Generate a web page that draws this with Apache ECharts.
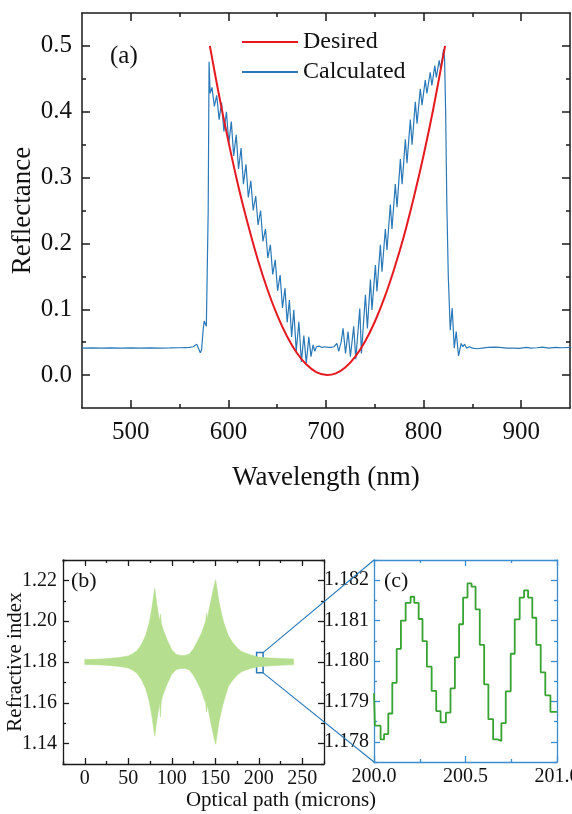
<!DOCTYPE html>
<html>
<head>
<meta charset="utf-8">
<script src="https://cdn.jsdelivr.net/npm/echarts@6/dist/echarts.min.js"></script>
<style>
  html, body { margin: 0; padding: 0; background: #fff; }
  #main { width: 572px; height: 814px; }
</style>
</head>
<body>
<div id="main"></div>
<script>
// ---------- (a) reflectance spectra ----------
const wlMajor = [500, 600, 700, 800, 900];
const wlMinor = [550, 650, 750, 850];
const reflMajor = [0.0, 0.1, 0.2, 0.3, 0.4, 0.5];
const reflMinor = [0.05, 0.15, 0.25, 0.35, 0.45];

// target profile [wavelength nm, reflectance]
const desired = [
  [581, 0.500], [590, 0.428], [600, 0.355], [610, 0.288], [620, 0.229],
  [630, 0.176], [640, 0.130], [650, 0.091], [660, 0.059], [670, 0.034],
  [680, 0.016], [690, 0.0046], [701, 0.0], [710, 0.0025], [720, 0.0118],
  [730, 0.028], [740, 0.051], [750, 0.081], [760, 0.118], [770, 0.162],
  [780, 0.212], [790, 0.270], [800, 0.334], [810, 0.405], [822, 0.500]
];

// computed response of the designed structure [wavelength nm, reflectance]
const calculated = [
  [450, 0.041], [460, 0.0412], [470, 0.041], [480, 0.0413], [490, 0.041], [500, 0.0412],
  [510, 0.041], [520, 0.0413], [530, 0.041], [540, 0.0412], [550, 0.0415], [556, 0.0418],
  [560, 0.042], [564, 0.043], [566, 0.045], [567.6, 0.047], [569.5, 0.040], [571.2, 0.034],
  [572.5, 0.038], [574.2, 0.070], [575.2, 0.082], [576.2, 0.083], [577.4, 0.074], [578.6, 0.071],
  [579.3, 0.25], [580.2, 0.476],
  [581.3, 0.428], [583.2, 0.437], [585.6, 0.408], [588.0, 0.425], [590.5, 0.388], [593.0, 0.414],
  [595.4, 0.370], [598.0, 0.400], [600.4, 0.352], [603.0, 0.385], [605.4, 0.333], [608.0, 0.365],
  [610.4, 0.313], [613.0, 0.345], [615.4, 0.290], [618.0, 0.320], [620.4, 0.270], [623.0, 0.295],
  [625.4, 0.250], [628.0, 0.272], [630.4, 0.228], [633.0, 0.250], [635.4, 0.203], [638.0, 0.222],
  [640.4, 0.178], [643.0, 0.198], [645.4, 0.153], [648.0, 0.175], [650.4, 0.128], [653.0, 0.152],
  [655.4, 0.102], [658.0, 0.132], [660.2, 0.080], [662.5, 0.114], [664.8, 0.058], [667.0, 0.099],
  [669.5, 0.036], [672.2, 0.081], [674.8, 0.020], [677.3, 0.060], [679.8, 0.018], [682.4, 0.058],
  [684.6, 0.028], [686.8, 0.046], [688.5, 0.036],
  [690.2, 0.043], [691.5, 0.040], [693, 0.044], [694.5, 0.041], [696, 0.042], [697.5, 0.040],
  [699, 0.043], [700.5, 0.041], [702, 0.042], [703.5, 0.040], [705, 0.042], [706.5, 0.041],
  [708, 0.043], [709.5, 0.040], [711.2, 0.048], [713, 0.036],
  [715.5, 0.050], [717.5, 0.071], [720, 0.033], [722.6, 0.066], [725, 0.028], [728.4, 0.074],
  [730.5, 0.024], [734.6, 0.101], [736.3, 0.033], [740.4, 0.122], [742.4, 0.071], [745.5, 0.145],
  [747.1, 0.099], [750.6, 0.167], [752.2, 0.127], [755.7, 0.198], [757.4, 0.157], [760.8, 0.222],
  [762.5, 0.190], [765.9, 0.259], [767.6, 0.222], [771, 0.290], [772.8, 0.255], [776.2, 0.328],
  [778, 0.290], [781.3, 0.358], [783, 0.322], [786.4, 0.388], [788.2, 0.350], [791.5, 0.415],
  [793.3, 0.382], [796.6, 0.435], [798.4, 0.410], [801.7, 0.448], [803.4, 0.428], [806.8, 0.460],
  [808.5, 0.440], [811.5, 0.470], [813, 0.452], [816, 0.478], [817.5, 0.465], [820.5, 0.495],
  [821.5, 0.480], [822.6, 0.400], [823.8, 0.260], [825.3, 0.150], [827.3, 0.068], [829.3, 0.102],
  [831.4, 0.041], [833.4, 0.066], [835.8, 0.029], [838.5, 0.048], [840.2, 0.043], [842, 0.047],
  [844, 0.041], [847, 0.043], [850, 0.041], [855, 0.040], [860, 0.041], [866, 0.042],
  [872, 0.0425], [878, 0.042], [885, 0.041], [892, 0.041], [898, 0.0405], [905, 0.042],
  [910, 0.041], [916, 0.0415], [922, 0.0425], [928, 0.041], [935, 0.042], [942, 0.0415], [950, 0.042]
];

// ---------- (b) index profile envelope ----------
const pathMajor = [0, 50, 100, 150, 200, 250];
const pathMinor = [-25, 25, 75, 125, 175, 225, 275];
const indexMajor = [1.14, 1.16, 1.18, 1.20, 1.22];
const indexMinor = [1.13, 1.15, 1.17, 1.19, 1.21, 1.23];

const envPath = [0, 10, 20, 30, 40, 50, 55, 60, 65, 70, 74, 77, 79, 80.5, 82, 84, 86, 87, 88, 90,
  95, 100, 105, 110, 115, 120, 125, 130, 134, 137, 139, 140, 141, 143, 146, 148.5, 150.5, 152, 154,
  157, 160, 165, 170, 175, 180, 190, 200, 210, 220, 230, 240];
const envUpper = [1.1812, 1.1813, 1.1815, 1.1818, 1.1822, 1.1830, 1.1840, 1.1855, 1.1885, 1.1930,
  1.1990, 1.2060, 1.2120, 1.2162, 1.2110, 1.2050, 1.2000, 1.2035, 1.1990, 1.1960,
  1.1905, 1.1860, 1.1838, 1.1832, 1.1832, 1.1838, 1.1865, 1.1905, 1.1940, 1.1975, 1.2000, 1.2040,
  1.2010, 1.2060, 1.2120, 1.2170, 1.2203, 1.2160, 1.2100,
  1.2040, 1.1990, 1.1930, 1.1895, 1.1870, 1.1852, 1.1835, 1.1824, 1.1820, 1.1818, 1.1816, 1.1815];
const envLower = [1.1788, 1.1787, 1.1785, 1.1782, 1.1778, 1.1770, 1.1760, 1.1745, 1.1715, 1.1670,
  1.1610, 1.1540, 1.1480, 1.1436, 1.1490, 1.1545, 1.1600, 1.1530, 1.1610, 1.1640,
  1.1695, 1.1740, 1.1762, 1.1768, 1.1768, 1.1762, 1.1735, 1.1695, 1.1660, 1.1620, 1.1600, 1.1555,
  1.1590, 1.1545, 1.1480, 1.1430, 1.1397, 1.1440, 1.1500,
  1.1560, 1.1610, 1.1680, 1.1710, 1.1735, 1.1752, 1.1768, 1.1777, 1.1780, 1.1783, 1.1785, 1.1786];

// magnified window of the profile
const zoomWindow = { x0: 197.5, x1: 205, y0: 1.1747, y1: 1.1846 };

// ---------- (c) layered index near 200 µm ----------
const fineMajor = [200.0, 200.5, 201.0];
const fineMinor = [200.25, 200.75];
const fineIndexMajor = [1.178, 1.179, 1.180, 1.181, 1.182];
const fineIndexMinor = [1.1775, 1.1785, 1.1795, 1.1805, 1.1815, 1.1825];

// [layer start position µm, refractive index]
const layers = [
  [200.000, 1.17920], [200.005, 1.17840], [200.036, 1.17806], [200.055, 1.17819], [200.078, 1.17870],
  [200.100, 1.17946], [200.124, 1.18030], [200.147, 1.18100], [200.173, 1.18144], [200.200, 1.18159],
  [200.220, 1.18144], [200.244, 1.18104], [200.265, 1.18049], [200.289, 1.17986], [200.315, 1.17926],
  [200.340, 1.17876], [200.364, 1.17848], [200.393, 1.17872], [200.418, 1.17932], [200.442, 1.18009],
  [200.465, 1.18091], [200.487, 1.18157], [200.511, 1.18192], [200.533, 1.18184], [200.555, 1.18128],
  [200.578, 1.18040], [200.602, 1.17942], [200.625, 1.17856], [200.651, 1.17806], [200.675, 1.17802],
  [200.696, 1.17846], [200.720, 1.17925], [200.747, 1.18018], [200.769, 1.18103], [200.796, 1.18157],
  [200.820, 1.18175], [200.842, 1.18157], [200.865, 1.18107], [200.887, 1.18040], [200.911, 1.17972],
  [200.936, 1.17915], [200.964, 1.17874], [201.000, 1.17874]
];

// ---------- styling ----------
const FONT = "'Liberation Serif', 'Times New Roman', serif";
const RED = '#e5191f';
const BLUE = '#2a79b8';
const BAND = '#b5df8e';
const STEP = '#38a232';
const FRAME_C = '#3b8dcf';

// One side of a plot frame: an axis carrying the major ticks (and labels on
// bottom/left) plus an overlaid axis carrying the shorter minor ticks.
function side(grid, pos, s) {
  const base = {
    type: 'value', gridIndex: grid, position: pos, min: s.min, max: s.max,
    splitLine: { show: false }, silent: true
  };
  const withLabels = s.labels && (pos === 'bottom' || pos === 'left');
  const label = {
    show: true, customValues: s.major, formatter: s.fmt, margin: s.margin,
    fontFamily: FONT, fontSize: s.fontSize, color: '#111'
  };
  if (pos === 'bottom') { label.alignMinLabel = 'center'; label.alignMaxLabel = 'center'; }
  const major = Object.assign({}, base, {
    axisLine: { show: true, onZero: false, lineStyle: { color: s.color, width: s.width } },
    axisTick: { show: true, inside: true, length: s.majorLen, customValues: s.major,
      lineStyle: { color: s.color, width: s.width } },
    axisLabel: withLabels ? label : { show: false }
  });
  if (withLabels && s.name) {
    Object.assign(major, {
      name: s.name, nameLocation: 'middle', nameGap: s.nameGap, nameMoveOverlap: false,
      nameTextStyle: { fontFamily: FONT, fontSize: s.nameSize, color: '#111' }
    });
  }
  const minor = Object.assign({}, base, {
    axisLine: { show: false, onZero: false },
    axisTick: { show: true, inside: true, length: s.minorLen, customValues: s.minor,
      lineStyle: { color: s.color, width: s.width } },
    axisLabel: { show: false }
  });
  return [major, minor];
}

const specA_x = { min: 450, max: 950, major: wlMajor, minor: wlMinor, color: '#1a1a1a', width: 1.5,
  majorLen: 8, minorLen: 4, labels: true, fmt: v => String(Math.round(v)), fontSize: 25, margin: 12,
  name: 'Wavelength (nm)', nameGap: 56, nameSize: 27 };
const specA_y = { min: -0.05, max: 0.55, major: reflMajor, minor: reflMinor, color: '#1a1a1a', width: 1.5,
  majorLen: 8, minorLen: 4, labels: true, fmt: v => v.toFixed(1), fontSize: 25, margin: 10,
  name: 'Reflectance', nameGap: 46, nameSize: 27 };
const specB_x = { min: -25, max: 275, major: pathMajor, minor: pathMinor, color: '#1a1a1a', width: 1.3,
  majorLen: 6, minorLen: 3, labels: true, fmt: v => String(Math.round(v)), fontSize: 20, margin: 5 };
const specB_y = { min: 1.13, max: 1.23, major: indexMajor, minor: indexMinor, color: '#1a1a1a', width: 1.3,
  majorLen: 6, minorLen: 3, labels: true, fmt: v => v.toFixed(2), fontSize: 20, margin: 6,
  name: 'Refractive index', nameGap: 37, nameSize: 21 };
const specC_x = { min: 200, max: 201, major: fineMajor, minor: fineMinor, color: FRAME_C, width: 1.3,
  majorLen: 6, minorLen: 3, labels: true, fmt: v => v.toFixed(1), fontSize: 20, margin: 5 };
const specC_y = { min: 1.1775, max: 1.1825, major: fineIndexMajor, minor: fineIndexMinor, color: FRAME_C, width: 1.3,
  majorLen: 6, minorLen: 3, labels: true, fmt: v => v.toFixed(3), fontSize: 20, margin: 5 };

const xAxes = [].concat(
  side(0, 'bottom', specA_x), side(0, 'top', specA_x),
  side(1, 'bottom', specB_x), side(1, 'top', specB_x),
  side(2, 'bottom', specC_x), side(2, 'top', specC_x)
);
const yAxes = [].concat(
  side(0, 'left', specA_y), side(0, 'right', specA_y),
  side(1, 'left', specB_y), side(1, 'right', specB_y),
  side(2, 'left', specC_y), side(2, 'right', specC_y)
);

const chart = echarts.init(document.getElementById('main'), null, { renderer: 'canvas' });

chart.setOption({
  animation: false,
  backgroundColor: '#fff',
  grid: [
    { left: 82, top: 13, width: 488, height: 395, containLabel: false, outerBoundsMode: 'none' },
    { left: 63, top: 560, width: 261, height: 204, containLabel: false, outerBoundsMode: 'none' },
    { left: 374, top: 560, width: 183, height: 202, containLabel: false, outerBoundsMode: 'none' }
  ],
  xAxis: xAxes,
  yAxis: yAxes,
  legend: {
    data: ['Desired', 'Calculated'],
    orient: 'vertical', left: 242, top: 30, padding: 0,
    icon: 'rect', itemWidth: 56, itemHeight: 2, itemGap: 6,
    textStyle: { fontFamily: FONT, fontSize: 24, color: '#111' },
    selectedMode: false
  },
  series: [
    {
      name: 'Calculated', type: 'line', xAxisIndex: 0, yAxisIndex: 0,
      data: calculated, symbol: 'none',
      lineStyle: { color: BLUE, width: 1.2 }, itemStyle: { color: BLUE }
    },
    {
      name: 'Desired', type: 'line', xAxisIndex: 0, yAxisIndex: 0,
      data: desired, symbol: 'none', smooth: 0.3,
      lineStyle: { color: RED, width: 2 }, itemStyle: { color: RED }
    },
    {
      // oscillating index profile drawn as its filled envelope
      type: 'custom', xAxisIndex: 4, yAxisIndex: 4,
      data: [[0, 1.18]],
      renderItem: function (params, api) {
        const pts = [];
        for (let i = 0; i < envPath.length; i++) pts.push(api.coord([envPath[i], envUpper[i]]));
        for (let i = envPath.length - 1; i >= 0; i--) pts.push(api.coord([envPath[i], envLower[i]]));
        return { type: 'polygon', shape: { points: pts },
          style: { fill: BAND, stroke: BAND, lineWidth: 0.6 } };
      },
      silent: true
    },
    {
      type: 'line', xAxisIndex: 4, yAxisIndex: 4, data: [], silent: true,
      markArea: {
        silent: true,
        itemStyle: { color: 'rgba(0,0,0,0)', borderColor: BLUE, borderWidth: 1.5 },
        data: [[{ coord: [zoomWindow.x0, zoomWindow.y1] }, { coord: [zoomWindow.x1, zoomWindow.y0] }]]
      }
    },
    {
      type: 'line', xAxisIndex: 8, yAxisIndex: 8,
      data: layers, step: 'end', symbol: 'none',
      lineStyle: { color: STEP, width: 1.8 }
    }
  ]
});

// connector lines from the magnified window to the inset frame
const tr = chart.convertToPixel({ xAxisIndex: 4, yAxisIndex: 4 }, [zoomWindow.x1, zoomWindow.y1]);
const br = chart.convertToPixel({ xAxisIndex: 4, yAxisIndex: 4 }, [zoomWindow.x1, zoomWindow.y0]);
const cTL = chart.convertToPixel({ xAxisIndex: 8, yAxisIndex: 8 }, [specC_x.min, specC_y.max]);
const cBL = chart.convertToPixel({ xAxisIndex: 8, yAxisIndex: 8 }, [specC_x.min, specC_y.min]);

chart.setOption({
  graphic: [
    { type: 'line', shape: { x1: tr[0], y1: tr[1], x2: cTL[0], y2: cTL[1] },
      style: { stroke: BLUE, lineWidth: 1.1 }, z: 50 },
    { type: 'line', shape: { x1: br[0], y1: br[1], x2: cBL[0], y2: cBL[1] },
      style: { stroke: BLUE, lineWidth: 1.1 }, z: 50 },
    { type: 'text', left: 110, top: 44,
      style: { text: '(a)', font: '25px ' + FONT, fill: '#111' } },
    { type: 'text', left: 71, top: 570,
      style: { text: '(b)', font: '22px ' + FONT, fill: '#111' } },
    { type: 'text', left: 384, top: 570,
      style: { text: '(c)', font: '22px ' + FONT, fill: '#111' } },
    { type: 'text', x: 281, y: 800,
      style: { text: 'Optical path (microns)', font: '21px ' + FONT, fill: '#111',
        textAlign: 'center', textVerticalAlign: 'middle' } }
  ]
});
</script>
</body>
</html>
